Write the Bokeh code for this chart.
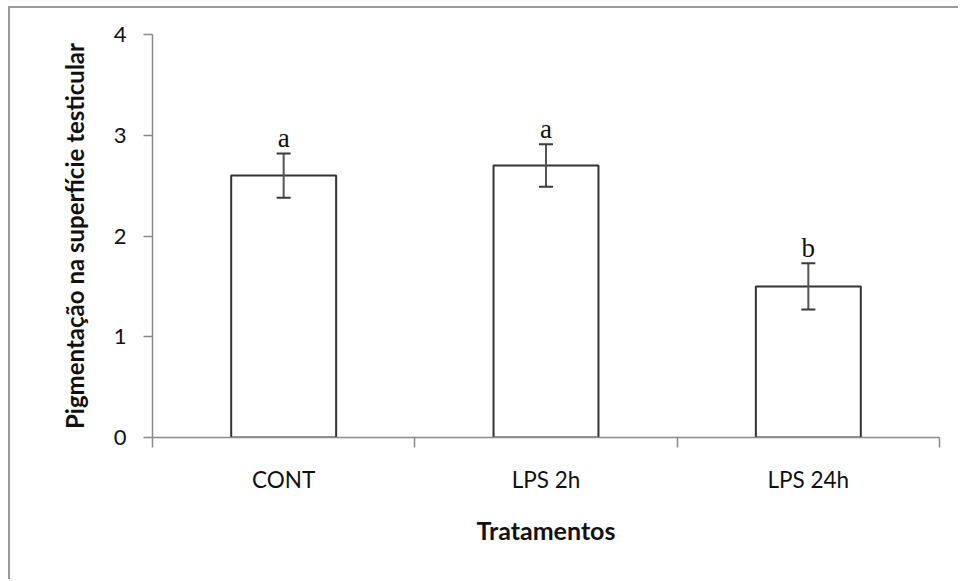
from bokeh.plotting import figure
from bokeh.models import ColumnDataSource, FixedTicker, Whisker, TeeHead, Range1d
from bokeh.core.properties import value
from bokeh.embed import file_html
from bokeh.resources import INLINE

# Treatment groups and mean testicular surface pigmentation scores
categories = ["CONT", "LPS 2h", "LPS 24h"]
means = [2.6, 2.7, 1.5]
errors = [0.22, 0.21, 0.23]
letters = ["a", "a", "b"]
y_ticks = [0, 1, 2, 3, 4]

xs = [i + 0.5 for i in range(len(categories))]
src = ColumnDataSource(dict(
    x=xs,
    mean=means,
    upper=[m + e for m, e in zip(means, errors)],
    lower=[m - e for m, e in zip(means, errors)],
    letter=letters,
))

p = figure(width=950, height=573, output_backend="svg", toolbar_location=None,
           x_range=Range1d(0, len(categories)), y_range=Range1d(0, 4),
           min_border_left=142, min_border_right=21,
           min_border_top=26, min_border_bottom=144)
p.outline_line_color = None
p.grid.visible = False
p.background_fill_color = "white"
p.border_fill_color = "white"
# Chart-area border along the top and left edges (offset shadow)
p.styles = {"margin-left": "10px", "margin-top": "8px",
            "box-shadow": "-2px -2px 0px 0px #9a9a9a"}

# Bars
p.vbar(x="x", top="mean", width=0.4, bottom=0, source=src,
       fill_color="white", line_color="#333333", line_width=2)

# Error bars
head_kw = dict(size=14, line_color="#3a3a3a", line_width=2)
whisk = Whisker(base="x", upper="upper", lower="lower", source=src,
                line_color="#555555", line_width=2,
                upper_head=TeeHead(**head_kw), lower_head=TeeHead(**head_kw),
                level="overlay")
p.add_layout(whisk)

# Significance letters
p.text(x="x", y="upper", text="letter", source=src,
       text_font=value("Liberation Serif"), text_font_size="27px",
       text_align="center", text_baseline="bottom", y_offset=0,
       text_color="#111111")

# X axis: ticks at group boundaries, labels at group centres
xa = p.xaxis[0]
xa.ticker = FixedTicker(ticks=xs, minor_ticks=list(range(len(categories) + 1)))
xa.major_label_overrides = {x: c for x, c in zip(xs, categories)}
xa.major_tick_line_color = None
xa.major_tick_out = 0
xa.major_tick_in = 0
xa.minor_tick_out = 10
xa.minor_tick_in = 0
xa.minor_tick_line_color = "#8a8a8a"
xa.minor_tick_line_width = 1.5
xa.axis_line_color = "#8a8a8a"
xa.axis_line_width = 1.5
xa.major_label_standoff = 18
xa.major_label_text_font = "Lato"
xa.major_label_text_font_size = "22.5px"
xa.major_label_text_color = "#111111"
xa.axis_label = "Tratamentos"
xa.axis_label_text_font = "Lato"
xa.axis_label_text_font_style = "bold"
xa.axis_label_text_font_size = "25px"
xa.axis_label_text_color = "#111111"
xa.axis_label_standoff = 19

# Y axis
ya = p.yaxis[0]
ya.ticker = FixedTicker(ticks=y_ticks, minor_ticks=[])
ya.major_tick_out = 9
ya.major_tick_in = 0
ya.major_tick_line_color = "#8a8a8a"
ya.major_tick_line_width = 1.5
ya.axis_line_color = "#8a8a8a"
ya.axis_line_width = 1.5
ya.major_label_standoff = 17
ya.major_label_text_font = "Lato"
ya.major_label_text_font_size = "22px"
ya.major_label_text_color = "#111111"
ya.axis_label = "Pigmentação na superfície testicular"
ya.axis_label_text_font = "Lato"
ya.axis_label_text_font_style = "bold"
ya.axis_label_text_font_size = "24px"
ya.axis_label_text_color = "#111111"
ya.axis_label_standoff = 22

open("out.html", "w").write(file_html(p, INLINE))
